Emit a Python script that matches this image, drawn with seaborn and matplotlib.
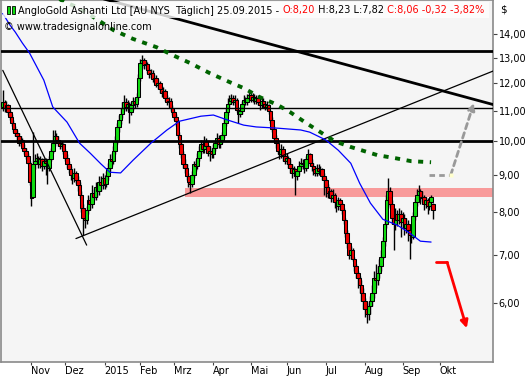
import numpy as np
import pandas as pd
import matplotlib
matplotlib.use("Agg")
import matplotlib.pyplot as plt
import seaborn as sns
from matplotlib.patches import Rectangle
from matplotlib.ticker import NullLocator, FixedLocator

# ---------------- data ----------------
opens = [11.15, 11.30, 11.10, 11.20, 10.95, 10.80, 10.60, 10.40, 10.25, 10.15,
         9.95, 10.05, 9.80, 9.70, 9.55, 9.35, 8.80, 8.40, 9.30, 9.40,
         9.50, 9.30, 9.45, 9.25, 9.40, 9.35, 9.20, 9.45, 9.70, 9.95,
         10.15, 10.05, 9.95, 9.85, 9.90, 9.70, 9.50, 9.30, 9.15, 9.00,
         8.90, 9.05, 8.85, 8.70, 8.45, 8.10, 7.85, 7.80, 8.05, 8.30,
         8.20, 8.50, 8.40, 8.65, 8.55, 8.80, 8.70, 8.90, 8.75, 8.95,
         9.20, 9.45, 9.40, 9.70, 10.00, 10.45, 10.70, 10.90, 11.10, 11.30,
         11.15, 11.25, 10.95, 11.20, 11.35, 11.25, 11.50, 12.20, 12.80, 12.90,
         12.70, 12.75, 12.50, 12.35, 12.40, 12.15, 12.20, 11.95, 12.00, 11.80,
         11.65, 11.70, 11.45, 11.30, 11.35, 11.10, 10.95, 10.80, 10.65, 10.20,
         9.90, 9.60, 9.30, 9.20, 8.95, 8.80, 8.75, 9.00, 9.30, 9.25,
         9.50, 9.70, 9.90, 9.75, 10.00, 9.85, 9.65, 9.70, 9.60, 9.80,
         9.95, 10.10, 9.90, 10.05, 10.20, 10.60, 10.95, 11.25, 11.35, 11.45,
         11.30, 11.40, 11.05, 10.90, 11.00, 11.25, 11.40, 11.30, 11.45, 11.55,
         11.40, 11.50, 11.35, 11.45, 11.30, 11.20, 11.35, 11.25, 11.15, 11.20,
         11.00, 10.70, 10.40, 10.10, 9.95, 9.70, 9.60, 9.75, 9.55, 9.40,
         9.50, 9.30, 9.20, 9.05, 9.15, 8.95, 9.10, 9.25, 9.35, 9.30,
         9.20, 9.45, 9.60, 9.35, 9.25, 9.15, 9.05, 9.20, 9.10, 9.15,
         8.95, 8.85, 8.65, 8.50, 8.55, 8.35, 8.45, 8.25, 8.15, 8.30,
         8.20, 8.05, 7.80, 7.50, 7.25, 7.00, 7.10, 6.90, 6.75, 6.60,
         6.50, 6.35, 6.20, 6.05, 5.90, 5.80, 5.95, 6.05, 6.20, 6.50,
         6.45, 6.60, 6.75, 6.95, 7.30, 7.70, 8.30, 8.55, 8.20, 7.85,
         7.70, 7.95, 7.80, 7.95, 7.75, 7.85, 7.60, 7.70, 7.55, 7.45,
         7.40, 7.90, 8.25, 8.45, 8.55, 8.35, 8.40, 8.20, 8.30, 8.15,
         8.25, 8.20]
highs = [11.75, 11.40, 11.35, 11.25, 11.05, 10.90, 10.70, 10.50, 10.35, 10.25,
         10.15, 10.10, 9.90, 9.80, 9.65, 9.40, 8.85, 10.30, 9.60, 9.65,
         9.55, 9.55, 9.50, 9.50, 9.50, 9.40, 9.55, 9.80, 10.35, 10.35,
         10.25, 10.15, 10.05, 10.00, 9.95, 9.75, 9.60, 9.40, 9.25, 9.10,
         9.20, 9.10, 8.95, 8.80, 8.55, 8.20, 7.95, 8.15, 8.45, 8.40,
         8.70, 8.60, 8.80, 8.75, 8.95, 8.95, 9.05, 9.00, 9.10, 9.35,
         9.60, 9.65, 9.85, 10.15, 10.60, 10.85, 11.10, 11.30, 11.55, 11.45,
         11.40, 11.30, 11.30, 11.50, 11.45, 11.65, 12.35, 12.95, 13.10, 13.00,
         12.90, 12.85, 12.60, 12.55, 12.50, 12.35, 12.30, 12.15, 12.10, 11.90,
         11.85, 11.80, 11.55, 11.50, 11.45, 11.20, 11.05, 10.90, 10.70, 10.30,
         10.00, 9.70, 9.45, 9.30, 9.05, 8.95, 9.10, 9.40, 9.45, 9.65,
         9.85, 10.05, 10.00, 10.15, 10.10, 9.90, 9.85, 9.80, 9.90, 10.05,
         10.25, 10.20, 10.15, 10.30, 10.75, 11.10, 11.45, 11.55, 11.60, 11.55,
         11.55, 11.45, 11.15, 11.10, 11.35, 11.55, 11.50, 11.60, 11.75, 11.65,
         11.65, 11.60, 11.55, 11.55, 11.40, 11.50, 11.45, 11.35, 11.35, 11.25,
         11.05, 10.80, 10.50, 10.20, 10.05, 9.80, 9.90, 9.85, 9.65, 9.65,
         9.55, 9.45, 9.30, 9.25, 9.20, 9.20, 9.40, 9.50, 9.45, 9.40,
         9.55, 9.75, 9.65, 9.45, 9.35, 9.25, 9.30, 9.30, 9.25, 9.20,
         9.05, 8.90, 8.75, 8.65, 8.60, 8.60, 8.50, 8.35, 8.40, 8.35,
         8.25, 8.10, 7.85, 7.55, 7.30, 7.20, 7.15, 6.95, 6.80, 6.65,
         6.55, 6.45, 6.30, 6.10, 6.00, 6.05, 6.15, 6.35, 6.65, 6.80,
         6.75, 6.90, 7.10, 7.40, 7.85, 8.45, 8.90, 8.65, 8.30, 7.95,
         8.10, 8.05, 8.10, 8.05, 8.00, 7.95, 7.85, 7.80, 7.65, 7.60,
         8.00, 8.35, 8.60, 8.70, 8.60, 8.55, 8.45, 8.40, 8.35, 8.35,
         8.45, 8.23]
lows = [11.00, 10.95, 11.00, 10.85, 10.70, 10.50, 10.30, 10.15, 10.00, 9.85,
        9.85, 9.75, 9.60, 9.45, 9.30, 8.70, 8.15, 8.35, 9.15, 9.30,
        9.20, 9.20, 9.10, 9.15, 9.00, 8.75, 9.10, 9.40, 9.65, 9.85,
        9.95, 9.85, 9.75, 9.75, 9.60, 9.40, 9.20, 9.05, 8.85, 8.75,
        8.80, 8.75, 8.55, 8.35, 8.00, 7.45, 7.60, 7.70, 7.95, 8.05,
        8.10, 8.30, 8.30, 8.40, 8.45, 8.55, 8.60, 8.60, 8.65, 8.85,
        9.10, 9.25, 9.30, 9.60, 9.90, 10.30, 10.55, 10.75, 11.00, 11.00,
        11.00, 10.60, 10.85, 11.05, 11.10, 11.15, 11.40, 12.10, 12.60, 12.55,
        12.55, 12.40, 12.20, 12.20, 12.05, 12.00, 11.85, 11.80, 11.65, 11.50,
        11.50, 11.35, 11.20, 11.15, 11.00, 10.85, 10.70, 10.50, 10.10, 9.80,
        9.50, 9.20, 9.05, 8.85, 8.65, 8.50, 8.65, 8.90, 9.10, 9.15,
        9.40, 9.60, 9.65, 9.65, 9.75, 9.55, 9.40, 9.50, 9.50, 9.70,
        9.85, 9.80, 9.80, 9.95, 10.10, 10.50, 10.85, 11.10, 11.25, 11.20,
        11.20, 10.95, 10.60, 10.80, 10.90, 11.15, 11.20, 11.20, 11.35, 11.30,
        11.30, 11.25, 11.25, 11.20, 11.05, 11.10, 11.15, 11.05, 11.05, 10.90,
        10.60, 10.30, 10.00, 9.80, 9.60, 9.45, 9.50, 9.40, 9.30, 9.30,
        9.20, 9.05, 8.90, 8.95, 8.45, 8.85, 9.00, 9.15, 9.15, 9.05,
        9.10, 9.35, 9.25, 9.10, 9.00, 8.95, 8.95, 9.00, 9.00, 8.85,
        8.45, 8.40, 8.35, 8.40, 8.25, 8.25, 8.10, 8.00, 8.05, 8.05,
        7.95, 7.70, 7.40, 7.15, 6.90, 6.90, 6.85, 6.65, 6.50, 6.30,
        6.20, 6.05, 5.90, 5.75, 5.65, 5.70, 5.80, 5.95, 6.10, 6.30,
        6.35, 6.50, 6.65, 6.90, 7.20, 7.60, 8.15, 8.10, 7.70, 7.10,
        7.55, 7.65, 7.70, 7.40, 7.60, 7.45, 7.50, 7.30, 6.90, 7.25,
        7.35, 7.80, 8.15, 8.35, 8.20, 8.25, 8.05, 8.10, 7.95, 8.05,
        8.10, 7.82]
closes = [11.30, 11.10, 11.20, 10.95, 10.80, 10.60, 10.40, 10.25, 10.15, 9.95,
          10.05, 9.80, 9.70, 9.55, 9.35, 8.80, 8.35, 9.30, 9.40, 9.50,
          9.30, 9.45, 9.25, 9.40, 9.35, 9.20, 9.45, 9.70, 9.95, 10.15,
          10.05, 9.95, 9.85, 9.90, 9.70, 9.50, 9.30, 9.15, 9.00, 8.90,
          9.05, 8.85, 8.70, 8.45, 8.10, 7.85, 7.80, 8.05, 8.30, 8.20,
          8.50, 8.40, 8.65, 8.55, 8.80, 8.70, 8.90, 8.75, 8.95, 9.20,
          9.45, 9.40, 9.70, 10.00, 10.45, 10.70, 10.90, 11.10, 11.30, 11.15,
          11.25, 10.95, 11.20, 11.35, 11.25, 11.50, 12.20, 12.80, 12.90, 12.70,
          12.75, 12.50, 12.35, 12.40, 12.15, 12.20, 11.95, 12.00, 11.80, 11.65,
          11.70, 11.45, 11.30, 11.35, 11.10, 10.95, 10.80, 10.65, 10.20, 9.90,
          9.60, 9.30, 9.20, 8.95, 8.80, 8.75, 9.00, 9.30, 9.25, 9.50,
          9.70, 9.90, 9.75, 10.00, 9.85, 9.65, 9.70, 9.60, 9.80, 9.95,
          10.10, 9.90, 10.05, 10.20, 10.60, 10.95, 11.25, 11.35, 11.45, 11.30,
          11.40, 11.05, 10.90, 11.00, 11.25, 11.40, 11.30, 11.45, 11.55, 11.40,
          11.50, 11.35, 11.45, 11.30, 11.20, 11.35, 11.25, 11.15, 11.20, 11.00,
          10.70, 10.40, 10.10, 9.95, 9.70, 9.60, 9.75, 9.55, 9.40, 9.50,
          9.30, 9.20, 9.05, 9.15, 8.95, 9.10, 9.25, 9.35, 9.30, 9.20,
          9.45, 9.60, 9.35, 9.25, 9.15, 9.05, 9.20, 9.10, 9.15, 8.95,
          8.85, 8.65, 8.50, 8.55, 8.35, 8.45, 8.25, 8.15, 8.30, 8.20,
          8.05, 7.80, 7.50, 7.25, 7.00, 7.10, 6.90, 6.75, 6.60, 6.50,
          6.35, 6.20, 6.05, 5.90, 5.80, 5.95, 6.05, 6.20, 6.50, 6.45,
          6.60, 6.75, 6.95, 7.30, 7.70, 8.30, 8.55, 8.20, 7.85, 7.70,
          7.95, 7.80, 7.95, 7.75, 7.85, 7.60, 7.70, 7.55, 7.45, 7.40,
          7.90, 8.25, 8.45, 8.55, 8.35, 8.40, 8.20, 8.30, 8.15, 8.25,
          8.38, 8.06]

first_session = "2014-10-10"
last_calendar_day = "2015-11-13"
exchange_holidays = ["2014-11-27", "2014-12-25", "2015-01-01", "2015-01-19",
                     "2015-02-16", "2015-04-03", "2015-05-25", "2015-07-03",
                     "2015-09-07"]

month_dates = ["2014-11-03", "2014-12-01", "2015-01-02", "2015-02-02", "2015-03-02",
               "2015-04-01", "2015-05-01", "2015-06-01", "2015-07-01", "2015-08-03",
               "2015-09-01", "2015-10-01"]
month_labels = ["Nov", "Dez", "2015", "Feb", "Mrz", "Apr", "Mai", "Jun", "Jul",
                "Aug", "Sep", "Okt"]

price_ticks = [6, 7, 8, 9, 10, 11, 12, 13, 14]
price_labels = ["6,00", "7,00", "8,00", "9,00", "10,00", "11,00", "12,00", "13,00", "14,00"]

# moving averages (session number, value)
blue_sessions = [0, 4, 7, 11, 15, 23, 28, 36, 43, 49, 55, 60, 66, 73, 83, 92, 99, 111,
                 118, 126, 135, 142, 154, 167, 172, 181, 188, 195, 200, 206, 213, 221,
                 228, 234, 240]
blue_values = [14.95, 14.42, 14.10, 13.62, 13.20, 12.12, 11.14, 10.62, 9.94, 9.63, 9.31,
               9.07, 9.05, 9.42, 9.94, 10.36, 10.65, 10.82, 10.86, 10.69, 10.52, 10.46,
               10.42, 10.36, 10.29, 10.04, 9.72, 9.33, 8.76, 8.23, 7.82, 7.68, 7.49,
               7.30, 7.28]
green_sessions = [25, 33, 40, 49, 62, 73, 86, 95, 105, 116, 127, 135, 144, 154, 161,
                  170, 178, 186, 195, 201, 210, 220, 229, 240]
green_values = [16.10, 15.58, 15.31, 14.88, 14.19, 13.80, 13.45, 13.12, 12.79, 12.39,
                12.05, 11.82, 11.49, 11.21, 10.96, 10.59, 10.29, 10.00, 9.82, 9.72,
                9.57, 9.48, 9.39, 9.36]

# horizontal levels
thick_levels = [13.30, 10.00]
thin_levels = [11.11]
zone_start = "2015-03-10"
zone_low, zone_high = 8.39, 8.63

# trend lines (dates, prices)
down_thick_dates = ["2014-10-10", "2015-11-12"]
down_thick_prices = [17.06, 11.22]
down_thin_dates = ["2014-10-10", "2014-12-17"]
down_thin_prices = [12.50, 7.21]
up_thin_dates = ["2014-12-09", "2015-11-12"]
up_thin_prices = [7.36, 12.48]

# scenario arrows
grey_dates = ["2015-09-23", "2015-10-09", "2015-10-28"]
grey_prices = [8.99, 8.99, 11.28]
red_dates = ["2015-09-29", "2015-10-07", "2015-10-22"]
red_prices = [6.83, 6.83, 5.55]

title_parts = [("AngloGold Ashanti Ltd [AU NYS  Täglich] 25.09.2015 - ", "black"),
               ("O:8,20", "#ff0000"),
               (" H:8,23 L:7,82", "black"),
               (" C:8,06 -0,32 -3,82%", "#ff0000")]
source_text = "© www.tradesignalonline.com"

# ---------------- figure ----------------
sns.set_style("white")
plt.rcParams["font.family"] = ["DejaVu Sans"]

W, H = 528, 380
fig = plt.figure(figsize=(W / 100, H / 100), dpi=100, facecolor="white")
ax = fig.add_axes([1 / W, 1 - 362 / H, 492 / W, 362 / H])
ax.set_facecolor("#f5f5f5")

cal = pd.bdate_range(first_session, last_calendar_day, freq="C", holidays=exchange_holidays)
pos = {d.strftime("%Y-%m-%d"): i for i, d in enumerate(cal)}
px = lambda ds: [pos[d] for d in ds]

n = len(closes)
x = np.arange(n)
o = np.array(opens); c = np.array(closes); h = np.array(highs); l = np.array(lows)

ax.set_yscale("log")

# zone
ax.fill_between([pos[zone_start], 400], zone_low, zone_high, color="#f89a9a", lw=0, zorder=1)

# candles
ax.vlines(x, l, h, color="black", lw=1.0, zorder=2)
up = c >= o
cols = np.where(up, "#11dd11", "#ee0000")
ax.bar(x, c - o, bottom=o, width=2.0, color=cols, edgecolor="black", linewidth=0.75, zorder=3)

# horizontal levels
for lv in thick_levels:
    ax.axhline(lv, color="black", lw=2.0, zorder=4)
for lv in thin_levels:
    ax.axhline(lv, color="black", lw=1.0, zorder=4)

# trendlines
sns.lineplot(x=px(down_thick_dates), y=down_thick_prices, ax=ax, color="black", lw=2.0, zorder=5)
sns.lineplot(x=px(down_thin_dates), y=down_thin_prices, ax=ax, color="black", lw=0.9, zorder=5)
sns.lineplot(x=px(up_thin_dates), y=up_thin_prices, ax=ax, color="black", lw=0.9, zorder=5)

# averages
sns.lineplot(x=blue_sessions, y=blue_values, ax=ax, color="#0000ff", lw=0.9, zorder=6)
sns.lineplot(x=green_sessions, y=green_values, ax=ax, color="#006400", lw=2.8,
             linestyle=(0, (1.3, 1.7)), zorder=6)

# scenario arrows
gx = px(grey_dates)
ax.plot(gx[:2], grey_prices[:2], color="#999999", lw=2.0, ls=(0, (2, 1.5)), zorder=7)
ax.annotate("", xy=(gx[2], grey_prices[2]), xytext=(gx[1], grey_prices[1]),
            arrowprops=dict(arrowstyle="-|>", color="#999999", lw=2.0, ls=(0, (2, 1.5)),
                            mutation_scale=10, shrinkA=0, shrinkB=0), zorder=7)
ax.plot([gx[1]], [grey_prices[1]], marker="s", ms=2.5, color="#ffffcc", mec="none", zorder=8)
rx = px(red_dates)
ax.plot(rx[:2], red_prices[:2], color="#ff0000", lw=2.0, zorder=7)
ax.annotate("", xy=(rx[2], red_prices[2]), xytext=(rx[1], red_prices[1]),
            arrowprops=dict(arrowstyle="-|>", color="#ff0000", lw=2.0,
                            mutation_scale=11, shrinkA=0, shrinkB=0), zorder=7)

# axes formatting
ax.set_xlim(-1.0, 274.7)
ax.set_ylim(4.99, 15.6)
ax.yaxis.tick_right()
ax.yaxis.set_major_locator(FixedLocator(price_ticks))
ax.yaxis.set_minor_locator(NullLocator())
ax.set_yticklabels(price_labels)
ax.set_xticks(px(month_dates))
ax.set_xticklabels(month_labels)
ax.xaxis.set_minor_locator(NullLocator())
ax.tick_params(axis="y", which="major", right=True, left=False, direction="out",
               length=3.0, width=0.8, color="#444444", pad=1.0, labelsize=7.0, labelcolor="black")
ax.tick_params(axis="x", which="major", bottom=True, direction="out", length=2.5,
               width=0.8, color="#444444", pad=0.5, labelsize=7, labelcolor="black")
for lab in ax.get_xticklabels():
    lab.set_ha("left")
for sp in ax.spines.values():
    sp.set_color("#8a8a8a")
    sp.set_linewidth(1.2)
ax.set_xlabel(""); ax.set_ylabel("")
ax.grid(False)

# header box
fig.patches.append(Rectangle((3 / W, 1 - 18 / H), 486 / W, 16 / H, transform=fig.transFigure,
                             facecolor="white", edgecolor="none", alpha=0.8, zorder=10))
# candle icon
for cx in (6.5, 11.5):
    fig.patches.append(Rectangle(((cx + 1.5) / W, 1 - 16 / H), 0.8 / W, 13 / H,
                                 transform=fig.transFigure, facecolor="black", zorder=11))
    fig.patches.append(Rectangle((cx / W, 1 - 13.5 / H), 3.5 / W, 8 / H, transform=fig.transFigure,
                                 facecolor="#11dd11", edgecolor="black", lw=0.6, zorder=12))

fig.canvas.draw()
rend = fig.canvas.get_renderer()
xp = 18.0
for s, col in title_parts:
    t = fig.text(xp / W, 1 - 10.5 / H, s, color=col, fontsize=7.0, va="center", ha="left", zorder=13)
    xp += t.get_window_extent(renderer=rend).width
fig.text(4 / W, 1 - 26.5 / H, source_text, color="black", fontsize=7.0, va="center", ha="left", zorder=13)
fig.text(500 / W, 1 - 10 / H, "$", color="black", fontsize=7.5, va="center", ha="left")

fig.savefig("out.png", dpi=100, facecolor="white")
